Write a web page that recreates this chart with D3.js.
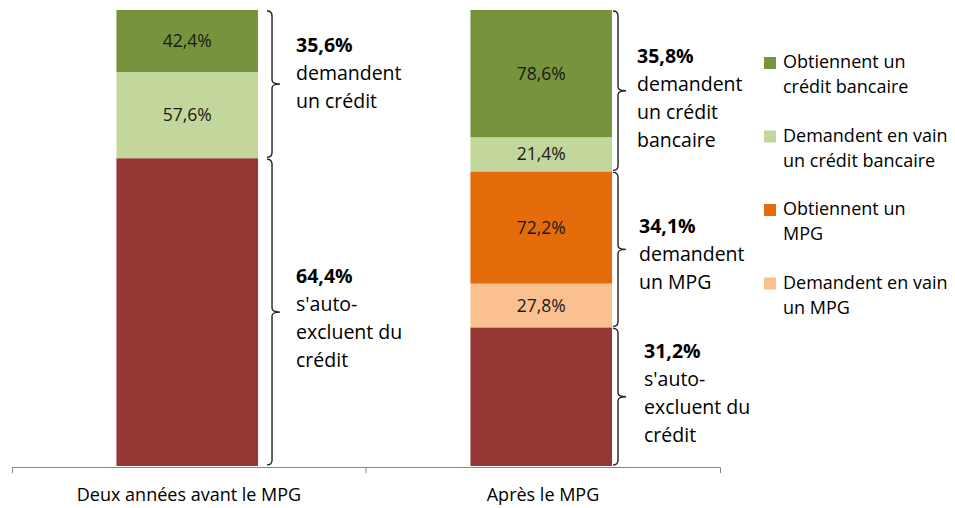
<!DOCTYPE html>
<html>
<head>
<meta charset="utf-8">
<script src="https://cdn.jsdelivr.net/npm/d3@7"></script>
<style>
  body { margin: 0; background: #fff; }
  svg text { font-family: "Open Sans", "Noto Sans", sans-serif; fill: #000; }
</style>
</head>
<body>
<svg id="svg" width="955" height="508"></svg>
<script>
// categories on the x axis
var categories = ["Deux années avant le MPG", "Après le MPG"];

// series, bottom to top, heights in % of the bar
var keys = ["autoExclus", "vainMPG", "obtMPG", "vainCredit", "obtCredit"];
var autoExclus = [67.5, 30.4];
var vainMPG    = [0, 9.6];
var obtMPG     = [0, 24.6];
var vainCredit = [18.9, 7.5];
var obtCredit  = [13.6, 27.9];

// labels printed inside the segments
var segLabels = {
  autoExclus: ["", ""],
  vainMPG:    ["", "27,8%"],
  obtMPG:     ["", "72,2%"],
  vainCredit: ["57,6%", "21,4%"],
  obtCredit:  ["42,4%", "78,6%"]
};

var colors = {
  autoExclus: "#953735",
  vainMPG:    "#FAC090",
  obtMPG:     "#E46C0A",
  vainCredit: "#C3D69B",
  obtCredit:  "#77933C"
};

// legend entries (top to bottom)
var legendKeys  = ["obtCredit", "vainCredit", "obtMPG", "vainMPG"];
var legendLines = [
  ["Obtiennent un", "crédit bancaire"],
  ["Demandent en vain", "un crédit bancaire"],
  ["Obtiennent un", "MPG"],
  ["Demandent en vain", "un MPG"]
];

// brace groups: bar index, first and last series covered, text lines
var groups = [
  {bar: 0, from: "autoExclus", to: "autoExclus", lines: ["64,4%", "s'auto-", "excluent du", "crédit"]},
  {bar: 0, from: "vainCredit", to: "obtCredit",  lines: ["35,6%", "demandent", "un crédit"]},
  {bar: 1, from: "autoExclus", to: "autoExclus", lines: ["31,2%", "s'auto-", "excluent du", "crédit"]},
  {bar: 1, from: "vainMPG",    to: "obtMPG",     lines: ["34,1%", "demandent", "un MPG"]},
  {bar: 1, from: "vainCredit", to: "obtCredit",  lines: ["35,8%", "demandent", "un crédit", "bancaire"]}
];

//======================================================================
var svg = d3.select("#svg");
var data = categories.map(function(c, i) {
  var row = {cat: c};
  row.autoExclus = autoExclus[i];
  row.vainMPG = vainMPG[i];
  row.obtMPG = obtMPG[i];
  row.vainCredit = vainCredit[i];
  row.obtCredit = obtCredit[i];
  return row;
});
var stacked = d3.stack().keys(keys)(data);
var byKey = {};
stacked.forEach(function(s) { byKey[s.key] = s; });

var xCat = d3.scaleBand().domain(categories).range([12, 720]).padding(0);
var barOff = 0.295, barW = 0.4;
var barX = function(c) { return xCat(c) + xCat.bandwidth() * barOff; };
var bw = xCat.bandwidth() * barW;
var y = d3.scaleLinear().domain([0, 100]).range([466, 10]);

// bars
var layers = svg.append("g").selectAll("g").data(stacked).enter().append("g")
  .attr("fill", function(d) { return colors[d.key]; });
layers.selectAll("rect").data(function(d) { return d; }).enter().append("rect")
  .attr("x", function(d) { return barX(d.data.cat); })
  .attr("width", bw)
  .attr("y", function(d) { return y(d[1]); })
  .attr("height", function(d) { return y(d[0]) - y(d[1]); });

// segment labels
stacked.forEach(function(s) {
  svg.append("g").selectAll("text").data(s).enter().append("text")
    .attr("x", function(d) { return barX(d.data.cat) + bw / 2; })
    .attr("y", function(d) { return (y(d[0]) + y(d[1])) / 2; })
    .attr("dy", "0.35em")
    .attr("text-anchor", "middle")
    .style("font-size", "17.5px")
    .style("fill", "#1a1a1a")
    .text(function(d, i) { return segLabels[s.key][i]; });
});

// axis
var axis = svg.append("g").attr("transform", "translate(0,467)")
  .call(d3.axisBottom(xCat).tickSize(0).tickSizeOuter(6).tickPadding(21));
axis.select(".domain").attr("stroke", "#868686");
axis.selectAll("text").style("font-size", "18px").style("font-family", "'Open Sans', sans-serif");
categories.slice(1).forEach(function(c) {
  axis.append("line").attr("x1", xCat(c)).attr("x2", xCat(c))
    .attr("y1", 0).attr("y2", 6).attr("stroke", "#868686");
});

// braces + notes
var braceGap = [14, 6];
var noteDx = [[24, 24], [26, 21, 19]];
var noteDy = [[7, -10], [-3, 6, 8]];
var counter = [0, 0];
var brace = function(x0, y0, y1) {
  var ym = (y0 + y1) / 2;
  return "M" + (x0 - 5) + "," + y0 + " Q" + x0 + "," + y0 + " " + x0 + "," + (y0 + 5) +
    " L" + x0 + "," + (ym - 4) + " Q" + x0 + "," + ym + " " + (x0 + 8) + "," + ym +
    " Q" + x0 + "," + ym + " " + x0 + "," + (ym + 4) +
    " L" + x0 + "," + (y1 - 5) + " Q" + x0 + "," + y1 + " " + (x0 - 5) + "," + y1;
};
groups.forEach(function(g) {
  var k = counter[g.bar]++;
  var d0 = byKey[g.from][g.bar], d1 = byKey[g.to][g.bar];
  var top = y(d1[1]), bot = y(d0[0]);
  var bx = barX(categories[g.bar]) + bw + braceGap[g.bar];
  svg.append("path").attr("d", brace(bx, top + 1, bot - 1))
    .attr("fill", "none").attr("stroke", "#222").attr("stroke-width", 1.4);
  var mid = (top + bot) / 2;
  var n = g.lines.length;
  var first = mid - (n - 1) * 28 / 2 + 6 + noteDy[g.bar][k];
  var t = svg.append("text").attr("x", bx + noteDx[g.bar][k]).attr("y", first)
    .style("font-size", "19.5px");
  g.lines.forEach(function(l, i) {
    t.append("tspan").attr("x", bx + noteDx[g.bar][k]).attr("dy", i === 0 ? 0 : 28)
      .style("font-weight", i === 0 ? "bold" : "normal").text(l);
  });
});

// legend
var leg = svg.append("g").selectAll("g").data(legendKeys).enter().append("g")
  .attr("transform", function(d, i) { return "translate(764," + (68 + i * 73.5) + ")"; });
leg.append("rect").attr("x", 0).attr("y", -11).attr("width", 12).attr("height", 12)
  .attr("fill", function(d) { return colors[d]; });
leg.append("text").attr("x", 19).attr("y", 0).style("font-size", "18px")
  .each(function(d, i) {
    var t = d3.select(this);
    legendLines[i].forEach(function(l, j) {
      t.append("tspan").attr("x", 19).attr("dy", j === 0 ? 0 : 25).text(l);
    });
  });
</script>
</body>
</html>
